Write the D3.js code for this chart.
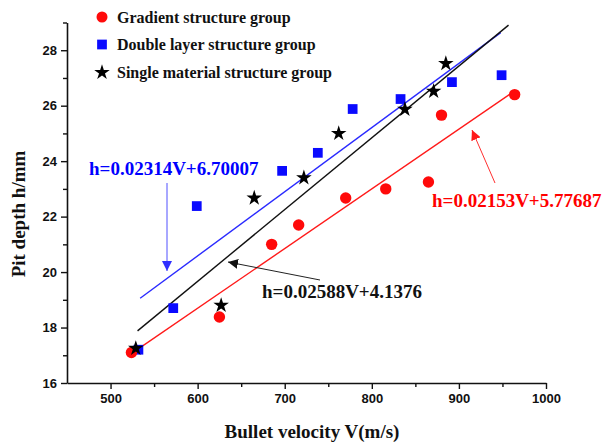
<!DOCTYPE html>
<html><head><meta charset="utf-8">
<script src="https://cdn.jsdelivr.net/npm/d3@7"></script>
<style>
html,body{margin:0;padding:0;background:#fff;}
svg{display:block;}
.serif{font-family:"Liberation Serif","Times New Roman",serif;font-weight:bold;}
.tick text{font-family:"Liberation Sans",Arial,sans-serif;font-weight:bold;font-size:13px;fill:#111;}
</style></head>
<body>
<svg id="chart" width="607" height="446"></svg>
<script>
// Data
const gradientV = [524, 625, 685, 716, 770, 816, 865, 880, 964];
const gradientH = [17.1, 18.38, 21.0, 21.7, 22.67, 23.0, 23.25, 25.66, 26.4];
const doubleV = [532, 572, 599, 697, 738, 778, 833, 892, 949];
const doubleH = [17.2, 18.7, 22.38, 23.65, 24.3, 25.88, 26.24, 26.85, 27.1];
const singleV = [529, 627, 665, 722, 762, 838, 871, 885];
const singleH = [17.25, 18.8, 22.67, 23.4, 25.0, 25.87, 26.52, 27.52];
// Fit lines: slope, intercept, V range
const fitGradient = {k: 0.02153, b: 5.77687, v0: 526, v1: 964};
const fitDouble = {k: 0.02314, b: 6.70007, v0: 534, v1: 948};
const fitSingle = {k: 0.02588, b: 4.1376, v0: 531, v1: 957};
const xTicks = [500, 600, 700, 800, 900, 1000];
const yTicks = [16, 18, 20, 22, 24, 26, 28];
const legendLabels = ["Gradient structure group", "Double layer structure group", "Single material structure group"];

const svg = d3.select("#chart");
const x = d3.scaleLinear().domain([450, 1000]).range([67, 546]);
const y = d3.scaleLinear().domain([16, 29]).range([383, 22.5]);

// Axes
svg.append("g").attr("transform", `translate(0,${y(16)})`)
  .call(d3.axisBottom(x).tickValues(xTicks).tickFormat(d3.format("d")).tickSize(6).tickPadding(5).tickSizeOuter(0));
svg.append("g").attr("transform", `translate(0,${y(16)})`)
  .call(d3.axisBottom(x).tickValues([550,650,750,850,950]).tickSize(4).tickFormat("").tickSizeOuter(0))
  .select(".domain").remove();
svg.append("g").attr("transform", `translate(${x(450)},0)`)
  .call(d3.axisLeft(y).tickValues(yTicks).tickFormat(d3.format("d")).tickSize(6).tickPadding(4).tickSizeOuter(0));
svg.append("g").attr("transform", `translate(${x(450)},0)`)
  .call(d3.axisLeft(y).tickValues([17,19,21,23,25,27,29]).tickSize(4).tickFormat("").tickSizeOuter(0))
  .select(".domain").remove();
svg.selectAll(".domain").attr("stroke", "#111").attr("stroke-width", 1.6);
svg.selectAll(".tick line").attr("stroke", "#111").attr("stroke-width", 1.4);

// Axis titles
svg.append("text").attr("class", "serif").attr("x", 312).attr("y", 438)
  .attr("text-anchor", "middle").attr("font-size", 19).attr("fill", "#111").text("Bullet velocity V(m/s)");
svg.append("text").attr("class", "serif").attr("transform", "translate(25,214) rotate(-90)")
  .attr("text-anchor", "middle").attr("font-size", 19).attr("fill", "#111").text("Pit depth h/mm");

// Fit lines
function fitLine(f, color) {
  svg.append("line").attr("x1", x(f.v0)).attr("y1", y(f.k * f.v0 + f.b))
    .attr("x2", x(f.v1)).attr("y2", y(f.k * f.v1 + f.b))
    .attr("stroke", color).attr("stroke-width", 1.4);
}
fitLine(fitDouble, "#2a2aff");
fitLine(fitSingle, "#111");
fitLine(fitGradient, "#ff1a1a");

// Markers
const star = d3.symbol().type(d3.symbolStar).size(75);
const square = d3.symbol().type(d3.symbolSquare).size(95);
svg.append("g").selectAll("path").data(doubleV).join("path")
  .attr("d", square).attr("transform", (d, i) => `translate(${x(d)},${y(doubleH[i])})`).attr("fill", "#0a0aff");
svg.append("g").selectAll("circle").data(gradientV).join("circle")
  .attr("cx", d => x(d)).attr("cy", (d, i) => y(gradientH[i])).attr("r", 5.7).attr("fill", "#ff0a0a");
svg.append("g").selectAll("path").data(singleV).join("path")
  .attr("d", star).attr("transform", (d, i) => `translate(${x(d)},${y(singleH[i])})`).attr("fill", "#000");

// Legend
const lg = svg.append("g");
const ly = [17, 44.5, 72.5];
lg.append("circle").attr("cx", 102).attr("cy", ly[0]).attr("r", 5.5).attr("fill", "#ff0a0a");
lg.append("path").attr("d", square).attr("transform", `translate(102,${ly[1]})`).attr("fill", "#0a0aff");
lg.append("path").attr("d", star).attr("transform", `translate(102,${ly[2]})`).attr("fill", "#000");
legendLabels.forEach((t, i) => {
  lg.append("text").attr("class", "serif").attr("x", 117).attr("y", ly[i] + 5.5)
    .attr("font-size", 16).attr("fill", "#111").text(t);
});

// Arrow markers
const defs = svg.append("defs");
function arrowDef(id, color) {
  defs.append("marker").attr("id", id).attr("viewBox", "0 0 10 10").attr("refX", 10).attr("refY", 5)
    .attr("markerWidth", 10).attr("markerHeight", 10).attr("markerUnits", "userSpaceOnUse").attr("orient", "auto")
    .append("path").attr("d", "M0,0 L10,5 L0,10 Z").attr("fill", color);
}
arrowDef("aBlue", "#3030ff");
arrowDef("aBlack", "#111");
arrowDef("aRed", "#ff1a1a");

// Annotations
svg.append("text").attr("class", "serif").attr("x", 89).attr("y", 175).attr("font-size", 19)
  .attr("fill", "#0000ff").text("h=0.02314V+6.70007");
svg.append("line").attr("x1", 167).attr("y1", 183).attr("x2", 167).attr("y2", 271)
  .attr("stroke", "#5050ff").attr("stroke-width", 1).attr("marker-end", "url(#aBlue)");

svg.append("text").attr("class", "serif").attr("x", 262).attr("y", 298).attr("font-size", 19)
  .attr("fill", "#111").text("h=0.02588V+4.1376");
svg.append("line").attr("x1", 320).attr("y1", 280).attr("x2", 228).attr("y2", 262)
  .attr("stroke", "#222").attr("stroke-width", 1).attr("marker-end", "url(#aBlack)");

svg.append("text").attr("class", "serif").attr("x", 432).attr("y", 207).attr("font-size", 19)
  .attr("fill", "#ff0000").text("h=0.02153V+5.77687");
svg.append("line").attr("x1", 495).attr("y1", 183).attr("x2", 472).attr("y2", 130)
  .attr("stroke", "#ff3030").attr("stroke-width", 1).attr("marker-end", "url(#aRed)");
</script>
</body></html>
